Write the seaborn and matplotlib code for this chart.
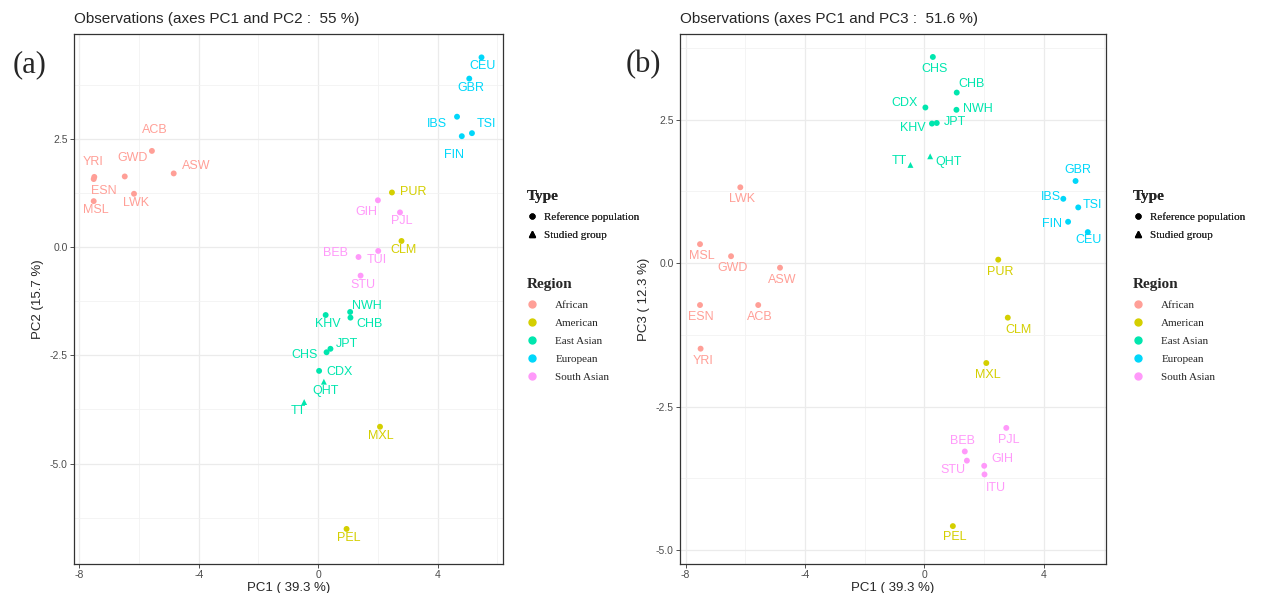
import pandas as pd
import matplotlib.pyplot as plt
import seaborn as sns
from matplotlib.lines import Line2D

# population summary (PCA coordinates)
pops = ["ACB", "ASW", "GWD", "YRI", "ESN", "LWK", "MSL",
        "PUR", "CLM", "MXL", "PEL",
        "NWH", "CHB", "KHV", "JPT", "CHS", "CDX", "QHT", "TT",
        "CEU", "GBR", "IBS", "TSI", "FIN",
        "GIH", "PJL", "ITU", "BEB", "STU"]
region = (["African"] * 7 + ["American"] * 4 + ["East Asian"] * 8
          + ["European"] * 5 + ["South Asian"] * 5)
ptype = ["Reference population"] * 17 + ["Studied group"] * 2 + ["Reference population"] * 10
pc1 = [-5.57, -4.84, -6.48, -7.50, -7.52, -6.17, -7.52,
       2.47, 2.79, 2.07, 0.95,
       1.07, 1.08, 0.25, 0.41, 0.28, 0.03, 0.19, -0.47,
       5.47, 5.06, 4.65, 5.15, 4.81,
       2.00, 2.74, 2.01, 1.35, 1.42]
pc2 = [2.22, 1.70, 1.63, 1.62, 1.57, 1.23, 1.06,
       1.26, 0.14, -4.15, -6.51,
       -1.50, -1.63, -1.57, -2.35, -2.43, -2.86, -3.11, -3.58,
       4.38, 3.89, 3.01, 2.63, 2.56,
       1.08, 0.80, -0.09, -0.23, -0.66]
pc3 = [-0.73, -0.08, 0.12, -1.49, -0.73, 1.32, 0.33,
       0.06, -0.95, -1.74, -4.58,
       2.67, 2.97, 2.43, 2.44, 3.59, 2.71, 1.86, 1.71,
       0.54, 1.43, 1.12, 0.97, 0.72,
       -3.53, -2.87, -3.68, -3.28, -3.44]
regions = ["African", "American", "East Asian", "European", "South Asian"]
colors = ["#FF9F97", "#D4CF00", "#00E6AE", "#00D7FA", "#FF99FA"]

df = pd.DataFrame({"pop": pops, "Region": region, "Type": ptype,
                   "PC1": pc1, "PC2": pc2, "PC3": pc3})
pal = dict(zip(regions, colors))

# label nudges (pixels, right / down) imitating ggrepel placement
nudge_a = {"ACB": (3, -21), "ASW": (23, -7), "GWD": (8, -18), "YRI": (-1, -15),
           "ESN": (10, 12), "LWK": (2, 9), "MSL": (2, 9), "CEU": (1, 9),
           "GBR": (2, 9), "IBS": (-20, 7), "TSI": (14, -9), "FIN": (-8, 19),
           "PUR": (21, 0), "GIH": (-12, 12), "PJL": (2, 9), "CLM": (2, 9),
           "ITU": (-1, 9), "BEB": (-23, -4), "STU": (2, 9), "NWH": (17, -6),
           "CHB": (19, 6), "KHV": (2, 9), "JPT": (17, -5), "CHS": (-22, 3),
           "CDX": (20, 1), "QHT": (2, 9), "TT": (-6, 9), "MXL": (1, 9), "PEL": (2, 9)}
nudge_b = {"LWK": (2, 12), "MSL": (2, 12), "GWD": (2, 12), "ASW": (2, 12),
           "ESN": (1, 12), "ACB": (2, 12), "YRI": (2, 12), "CHS": (2, 12),
           "CHB": (15, -9), "CDX": (-21, -4), "NWH": (21, -1), "KHV": (-19, 4),
           "JPT": (18, -1), "TT": (-11, -4), "QHT": (18, 6), "GBR": (2, -11),
           "IBS": (-12, -2), "TSI": (14, -2), "FIN": (-16, 2), "CEU": (1, 8),
           "PUR": (2, 12), "CLM": (11, 12), "MXL": (2, 12), "PJL": (2, 12),
           "BEB": (-2, -10), "STU": (-14, 9), "GIH": (18, -7), "ITU": (11, 14),
           "PEL": (2, 11)}
rename_a = {"ITU": "TUI"}

sns.set_style("white")
plt.rcParams["font.family"] = ["Liberation Sans", "DejaVu Sans"]
plt.rcParams["axes.unicode_minus"] = False

fig = plt.figure(figsize=(12.69, 5.93), dpi=100)
W, H = 1269, 593
ax1 = fig.add_axes([74 / W, 29 / H, 429 / W, 530 / H])
ax2 = fig.add_axes([680 / W, 29 / H, 426 / W, 530 / H])


def draw(ax, ycol, nudge, rename, title, ylab, xlim, ylim):
    sns.scatterplot(data=df, x="PC1", y=ycol, hue="Region", style="Type",
                    palette=pal, hue_order=regions,
                    markers={"Reference population": "o", "Studied group": "^"},
                    s=18, linewidth=0, legend=False, ax=ax, zorder=3)
    for _, r in df.iterrows():
        dx, dy = nudge[r["pop"]]
        ax.annotate(rename.get(r["pop"], r["pop"]), (r["PC1"], r[ycol]),
                    xytext=(dx, -dy), textcoords="offset pixels",
                    ha="center", va="center", fontsize=9, color=pal[r["Region"]])
    ax.set_xticks([-8, -4, 0, 4])
    ax.set_xticks([-6, -2, 2, 6], minor=True)
    ax.set_yticks([-5, -2.5, 0, 2.5])
    ax.set_yticklabels(["-5.0", "-2.5", "0.0", "2.5"])
    ax.set_yticks([-6.25, -3.75, -1.25, 1.25, 3.75], minor=True)
    ax.set_xlim(*xlim)
    ax.set_ylim(*ylim)
    ax.grid(which="major", color="#EBEBEB", lw=0.9)
    ax.grid(which="minor", color="#F2F2F2", lw=0.6)
    ax.set_axisbelow(True)
    for sp in ax.spines.values():
        sp.set_color("#333333")
        sp.set_linewidth(0.9)
    ax.tick_params(which="major", length=3, width=0.6, color="#333333",
                   labelsize=7.5, labelcolor="#4D4D4D", pad=1.5, bottom=True, left=True)
    ax.tick_params(which="minor", length=0)
    ax.set_xlabel("PC1 ( 39.3 %)", fontsize=9.5, labelpad=1)
    ax.set_ylabel(ylab, fontsize=9.5, labelpad=4)
    ax.set_title(title, loc="left", fontsize=11, pad=8)


draw(ax1, "PC2", nudge_a, rename_a, "Observations (axes PC1 and PC2 :  55 %)",
     "PC2 (15.7 %)", (-8.18, 6.19), (-7.32, 4.92))
draw(ax2, "PC3", nudge_b, {}, "Observations (axes PC1 and PC3 :  51.6 %)",
     "PC3 ( 12.3 %)", (-8.19, 6.08), (-5.24, 3.99))

fig.text(13 / W, 1 - 65 / H, "(a)", fontsize=22, family="Liberation Serif", va="center")
fig.text(626 / W, 1 - 65 / H, "(b)", fontsize=22, family="Liberation Serif", va="center")

# legends
type_handles = [Line2D([], [], marker="o", ls="", color="black", markersize=3.5),
                Line2D([], [], marker="^", ls="", color="black", markersize=4)]
reg_handles = [Line2D([], [], marker="o", ls="", color=c, markersize=5) for c in colors]
title_fp = {"family": "Liberation Serif", "weight": "bold", "size": 11}
lab_fp = {"family": "Liberation Serif", "size": 8}
for x0 in (522, 1128):
    l1 = fig.legend(type_handles, ["Reference population", "Studied group"],
                    loc="upper left", bbox_to_anchor=(x0 / W, 1 - 186 / H),
                    frameon=False, title="Type", title_fontproperties=title_fp,
                    prop=lab_fp, alignment="left", handletextpad=0.6,
                    handlelength=1.0, labelspacing=0.75, borderaxespad=0)
    l2 = fig.legend(reg_handles, regions,
                    loc="upper left", bbox_to_anchor=(x0 / W, 1 - 274 / H),
                    frameon=False, title="Region", title_fontproperties=title_fp,
                    prop=lab_fp, alignment="left", handletextpad=1.6,
                    handlelength=1.0, labelspacing=0.75, borderaxespad=0)
    fig.add_artist(l1)

fig.savefig("out.png", dpi=100)
